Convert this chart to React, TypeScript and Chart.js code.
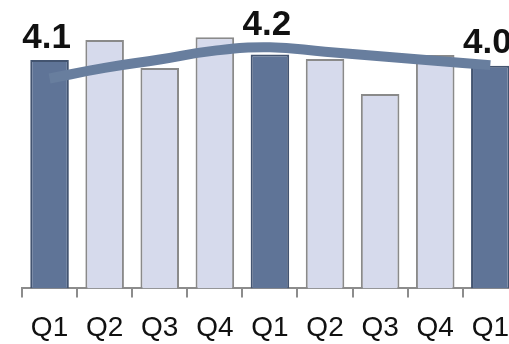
import React, { useEffect, useRef } from "react";
import { Chart, registerables } from "chart.js";

Chart.register(...registerables);

const categories = ["Q1", "Q2", "Q3", "Q4", "Q1", "Q2", "Q3", "Q4", "Q1"];
const barValues = [4.1, 4.46, 3.96, 4.51, 4.2, 4.12, 3.49, 4.19, 4.0];
const trendValues = [3.77, 3.96, 4.11, 4.27, 4.33, 4.25, 4.17, 4.09, 4.01];
const valueLabels = ["4.1", "", "", "", "4.2", "", "", "", "4.0"];
const highlighted = [true, false, false, false, true, false, false, false, true];

const DARK = "#5f7497";
const DARK_EDGE = "#435470";
const LIGHT = "#d6daec";
const LIGHT_EDGE = "#8a8a8a";
const LINE = "#687e9e";

const labelPlugin = {
  id: "valueLabels",
  afterDatasetsDraw(chart: any) {
    const bars = chart.getDatasetMeta(1);
    const line = chart.getDatasetMeta(0);
    const ctx = chart.ctx;
    ctx.save();
    ctx.font = "bold 35px 'Liberation Sans', Arial, sans-serif";
    ctx.fillStyle = "#111";
    ctx.textAlign = "center";
    ctx.textBaseline = "alphabetic";
    bars.data.forEach((el: any, i: number) => {
      const t = valueLabels[i];
      if (!t) return;
      const top = Math.min(el.y, line.data[i].y);
      ctx.fillText(t, el.x - 3, top - 12);
    });
    ctx.restore();
  },
};

export default function App() {
  const ref = useRef<HTMLCanvasElement | null>(null);
  useEffect(() => {
    document.body.style.margin = "0";
    document.body.style.overflow = "hidden";
    document.documentElement.style.overflow = "hidden";
    const canvas = ref.current!;
    const chart = new Chart(canvas, {
      type: "bar",
      data: {
        labels: categories,
        datasets: [
          {
            type: "line",
            data: trendValues,
            borderColor: LINE,
            borderWidth: 10,
            pointRadius: 0,
            tension: 0.45,
            fill: false,
            order: 0,
            borderCapStyle: "butt",
          } as any,
          {
            type: "bar",
            data: barValues,
            backgroundColor: highlighted.map((h) => (h ? DARK : LIGHT)),
            borderColor: highlighted.map((h) => (h ? DARK_EDGE : LIGHT_EDGE)),
            borderWidth: 2,
            barPercentage: 0.7,
            categoryPercentage: 1,
            order: 1,
          },
        ],
      },
      options: {
        responsive: false,
        animation: false,
        layout: { padding: { left: 22, right: 0, top: 10, bottom: 0 } },
        plugins: { legend: { display: false }, tooltip: { enabled: false } },
        scales: {
          x: {
            offset: true,
            grid: {
              offset: true,
              drawOnChartArea: false,
              drawTicks: true,
              tickLength: 9,
              color: "#8c8c8c",
              lineWidth: 2,
            },
            border: { display: true, color: "#8c8c8c", width: 2 },
            ticks: {
              color: "#111",
              padding: 14,
              font: { family: "'Liberation Sans', Arial, sans-serif", size: 28 },
              maxRotation: 0,
              autoSkip: false,
            },
          },
          y: {
            display: false,
            min: 0,
            max: 5,
          },
        },
      },
      plugins: [labelPlugin],
    });
    return () => chart.destroy();
  }, []);
  return (
    <div style={{ width: 509, height: 344, overflow: "hidden" }}>
      <canvas ref={ref} width={523} height={359} style={{ display: "block" }} />
    </div>
  );
}
